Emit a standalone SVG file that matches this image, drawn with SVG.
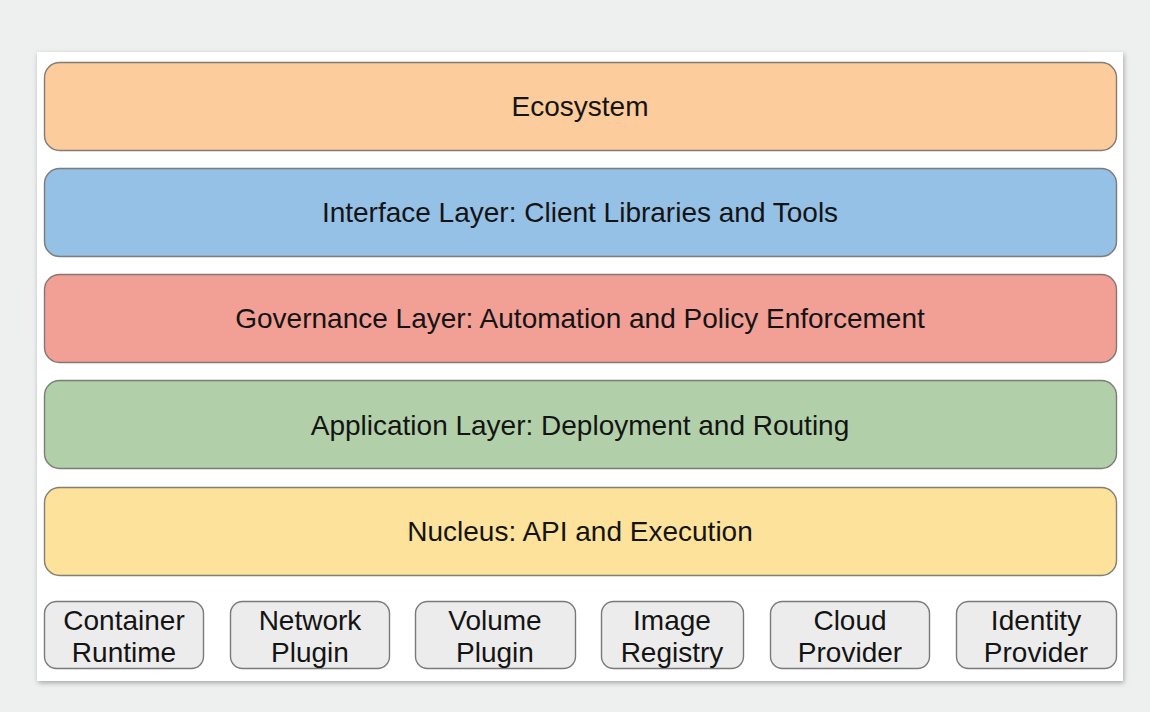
<svg xmlns="http://www.w3.org/2000/svg" width="1150" height="712" viewBox="0 0 1150 712">
<defs>
<filter id="sh" x="-5%" y="-5%" width="110%" height="110%">
<feDropShadow dx="1" dy="2" stdDeviation="2.5" flood-color="#000" flood-opacity="0.3"/>
</filter>
<style>
.layer{stroke:#6e6a64;stroke-opacity:0.85;stroke-width:1.4}
.comp{fill:#ececec;stroke:#7a7a7a;stroke-width:1.4}
.lt{font-family:"Liberation Sans",Arial,sans-serif;font-size:28px;fill:#141414;text-anchor:middle}
.ct{font-family:"Liberation Sans",Arial,sans-serif;font-size:28px;fill:#141414;text-anchor:middle}
</style>
</defs>
<rect x="0" y="0" width="1150" height="712" fill="#eef0ef"/>
<rect x="37" y="52" width="1086" height="629" fill="#ffffff" filter="url(#sh)"/>
<g id="ecosystem">
<rect class="layer" x="44.5" y="62.5" width="1072" height="88" rx="15" fill="#fdcc9c"/>
<text class="lt" x="580" y="116">Ecosystem</text>
</g>
<g id="interface">
<rect class="layer" x="44.5" y="168.5" width="1072" height="88" rx="15" fill="#95c1e6"/>
<text class="lt" x="580" y="222">Interface Layer: Client Libraries and Tools</text>
</g>
<g id="governance">
<rect class="layer" x="44.5" y="274.5" width="1072" height="88" rx="15" fill="#f2a096"/>
<text class="lt" x="580" y="328">Governance Layer: Automation and Policy Enforcement</text>
</g>
<g id="application">
<rect class="layer" x="44.5" y="380.5" width="1072" height="88" rx="15" fill="#b1d0a9"/>
<text class="lt" x="580" y="435">Application Layer: Deployment and Routing</text>
</g>
<g id="nucleus">
<rect class="layer" x="44.5" y="487.5" width="1072" height="88" rx="15" fill="#fde29b"/>
<text class="lt" x="580" y="541">Nucleus: API and Execution</text>
</g>
<g id="container-runtime">
<rect class="comp" x="44.5" y="601.5" width="159" height="67" rx="12"/>
<text class="ct" x="124" y="630">Container</text>
<text class="ct" x="124" y="662">Runtime</text>
</g>
<g id="network-plugin">
<rect class="comp" x="230.5" y="601.5" width="159" height="67" rx="12"/>
<text class="ct" x="310" y="630">Network</text>
<text class="ct" x="310" y="662">Plugin</text>
</g>
<g id="volume-plugin">
<rect class="comp" x="415.5" y="601.5" width="160" height="67" rx="12"/>
<text class="ct" x="495" y="630">Volume</text>
<text class="ct" x="495" y="662">Plugin</text>
</g>
<g id="image-registry">
<rect class="comp" x="601.5" y="601.5" width="142" height="67" rx="12"/>
<text class="ct" x="672" y="630">Image</text>
<text class="ct" x="672" y="662">Registry</text>
</g>
<g id="cloud-provider">
<rect class="comp" x="770.5" y="601.5" width="159" height="67" rx="12"/>
<text class="ct" x="850" y="630">Cloud</text>
<text class="ct" x="850" y="662">Provider</text>
</g>
<g id="identity-provider">
<rect class="comp" x="956.5" y="601.5" width="160" height="67" rx="12"/>
<text class="ct" x="1036" y="630">Identity</text>
<text class="ct" x="1036" y="662">Provider</text>
</g>
<g id="connectors"></g>
</svg>
